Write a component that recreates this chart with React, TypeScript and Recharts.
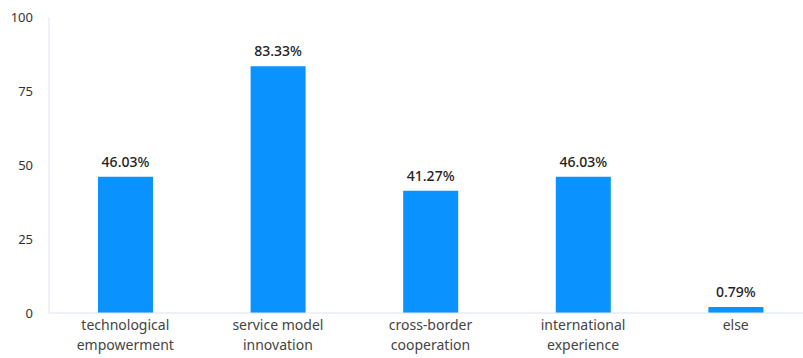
import { BarChart, Bar, XAxis, YAxis, LabelList } from 'recharts'

const categories = [
  'technological empowerment',
  'service model innovation',
  'cross-border cooperation',
  'international experience',
  'else',
]
const shares = [46.03, 83.33, 41.27, 46.03, 0.79]
const yTicks = [0, 25, 50, 75, 100]

const splitLabels: Record<string, string[]> = {
  'technological empowerment': ['technological', 'empowerment'],
  'service model innovation': ['service model', 'innovation'],
  'cross-border cooperation': ['cross-border', 'cooperation'],
  'international experience': ['international', 'experience'],
  else: ['else'],
}

const data = categories.map((name, i) => ({ name, value: shares[i] }))

const FONT = '"Noto Sans", "Open Sans", sans-serif'

function CategoryTick({ x, y, payload }: any) {
  const lines = splitLabels[payload.value] ?? [payload.value]
  return (
    <text x={x} y={y} textAnchor="middle" fill="#444" fontSize={14} fontFamily={FONT}>
      {lines.map((l, i) => (
        <tspan key={i} x={x} dy={i === 0 ? 9 : 20}>
          {l}
        </tspan>
      ))}
    </text>
  )
}

export default function App() {
  return (
    <div
      style={{
        position: 'absolute',
        left: 0,
        top: 0,
        width: 803,
        height: 358,
        overflow: 'hidden',
        background: '#fff',
      }}
    >
      <BarChart
        width={820}
        height={358}
        data={data}
        margin={{ top: 17, right: 8, bottom: 0, left: 0 }}
        barCategoryGap={0}
      >
        <XAxis
          dataKey="name"
          interval={0}
          tickLine={false}
          axisLine={{ stroke: '#dce3f0' }}
          tick={<CategoryTick />}
          height={45}
        />
        <YAxis
          width={49}
          domain={[0, 100]}
          ticks={yTicks}
          tickLine={false}
          tickMargin={10}
          axisLine={{ stroke: '#dce3f0' }}
          tick={{ fill: '#333', fontSize: 13, fontFamily: FONT }}
        />
        <Bar dataKey="value" fill="#0a93ff" barSize={55} minPointSize={6} isAnimationActive={false}>
          <LabelList
            dataKey="value"
            position="top"
            offset={10}
            formatter={(v: any) => `${Number(v).toFixed(2)}%`}
            style={{ fill: '#222', fontSize: 14, fontWeight: 500, fontFamily: FONT }}
          />
        </Bar>
      </BarChart>
    </div>
  )
}
